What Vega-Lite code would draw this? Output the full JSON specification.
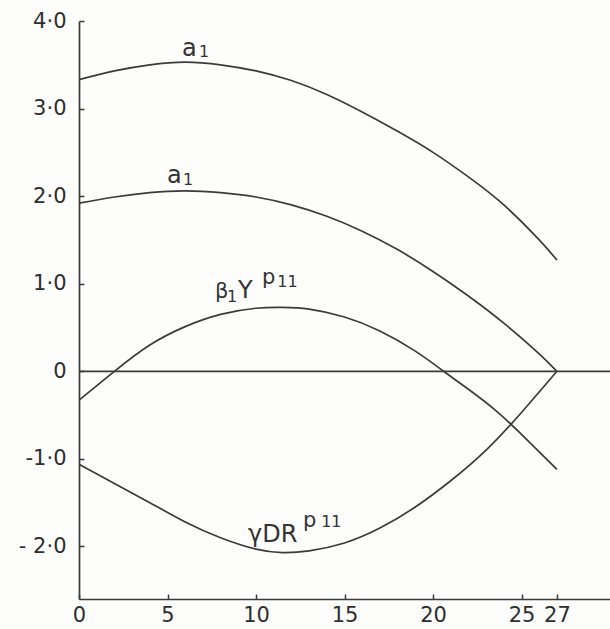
{
  "$schema": "https://vega.github.io/schema/vega-lite/v6.json",
  "width": 531,
  "height": 578,
  "autosize": {"type": "none"},
  "padding": {"left": 79, "top": 21, "right": 0, "bottom": 30},
  "background": "#fdfdfb",
  "config": {"view": {"stroke": null}, "font": "DejaVu Sans"},
  "datasets": {
    "curves": [
      {"series": "a1_upper", "x": 0, "y": 3.33},
      {"series": "a1_upper", "x": 2, "y": 3.43},
      {"series": "a1_upper", "x": 4, "y": 3.5},
      {"series": "a1_upper", "x": 6, "y": 3.53},
      {"series": "a1_upper", "x": 8, "y": 3.5},
      {"series": "a1_upper", "x": 10, "y": 3.43},
      {"series": "a1_upper", "x": 12, "y": 3.32},
      {"series": "a1_upper", "x": 14, "y": 3.16},
      {"series": "a1_upper", "x": 16, "y": 2.96},
      {"series": "a1_upper", "x": 18, "y": 2.74},
      {"series": "a1_upper", "x": 20, "y": 2.5},
      {"series": "a1_upper", "x": 22, "y": 2.22},
      {"series": "a1_upper", "x": 24, "y": 1.9},
      {"series": "a1_upper", "x": 26, "y": 1.5},
      {"series": "a1_upper", "x": 27, "y": 1.27},
      {"series": "a1_lower", "x": 0, "y": 1.92},
      {"series": "a1_lower", "x": 2, "y": 1.99},
      {"series": "a1_lower", "x": 4, "y": 2.04},
      {"series": "a1_lower", "x": 6, "y": 2.06},
      {"series": "a1_lower", "x": 8, "y": 2.04},
      {"series": "a1_lower", "x": 10, "y": 1.99},
      {"series": "a1_lower", "x": 12, "y": 1.9},
      {"series": "a1_lower", "x": 14, "y": 1.77},
      {"series": "a1_lower", "x": 16, "y": 1.6},
      {"series": "a1_lower", "x": 18, "y": 1.39},
      {"series": "a1_lower", "x": 20, "y": 1.14},
      {"series": "a1_lower", "x": 22, "y": 0.86},
      {"series": "a1_lower", "x": 24, "y": 0.55},
      {"series": "a1_lower", "x": 26, "y": 0.2},
      {"series": "a1_lower", "x": 27, "y": 0},
      {"series": "beta", "x": 0, "y": -0.33},
      {"series": "beta", "x": 2, "y": 0},
      {"series": "beta", "x": 4, "y": 0.3},
      {"series": "beta", "x": 6, "y": 0.51},
      {"series": "beta", "x": 8, "y": 0.65},
      {"series": "beta", "x": 10, "y": 0.72},
      {"series": "beta", "x": 11.5, "y": 0.73},
      {"series": "beta", "x": 13, "y": 0.71},
      {"series": "beta", "x": 15, "y": 0.62},
      {"series": "beta", "x": 17, "y": 0.46},
      {"series": "beta", "x": 19, "y": 0.23},
      {"series": "beta", "x": 20.6, "y": 0},
      {"series": "beta", "x": 22, "y": -0.205},
      {"series": "beta", "x": 23.5, "y": -0.44},
      {"series": "beta", "x": 25, "y": -0.72},
      {"series": "beta", "x": 27, "y": -1.12},
      {"series": "gamma", "x": 0, "y": -1.06},
      {"series": "gamma", "x": 2, "y": -1.28},
      {"series": "gamma", "x": 4, "y": -1.5},
      {"series": "gamma", "x": 6, "y": -1.72},
      {"series": "gamma", "x": 8, "y": -1.9},
      {"series": "gamma", "x": 10, "y": -2.03},
      {"series": "gamma", "x": 11.5, "y": -2.07},
      {"series": "gamma", "x": 13, "y": -2.05},
      {"series": "gamma", "x": 15, "y": -1.96},
      {"series": "gamma", "x": 17, "y": -1.79},
      {"series": "gamma", "x": 19, "y": -1.55},
      {"series": "gamma", "x": 21, "y": -1.25},
      {"series": "gamma", "x": 23, "y": -0.9},
      {"series": "gamma", "x": 25, "y": -0.47},
      {"series": "gamma", "x": 27, "y": 0},
      {"series": "zero", "x": 0, "y": 0},
      {"series": "zero", "x": 30, "y": 0}
    ],
    "labels_main": [
      {"t": "a", "x": 5.82, "y": 3.6},
      {"t": "a", "x": 4.97, "y": 2.15},
      {"t": "Y", "x": 8.98, "y": 0.837},
      {"t": "γDR", "x": 9.55, "y": -1.949}
    ],
    "labels_beta": [
      {"t": "β", "x": 7.68, "y": 0.837}
    ],
    "labels_sup": [
      {"t": "p", "x": 10.34, "y": 1.0},
      {"t": "p", "x": 12.66, "y": -1.778}
    ],
    "labels_small": [
      {"t": "1", "x": 6.78, "y": 3.59},
      {"t": "1", "x": 5.88, "y": 2.13},
      {"t": "1", "x": 8.36, "y": 0.79},
      {"t": "11", "x": 11.2, "y": 0.963},
      {"t": "11", "x": 13.68, "y": -1.778}
    ]
  },
  "layer": [
    {
      "data": {"name": "curves"},
      "mark": {"type": "line", "interpolate": "natural", "color": "#3b3b3b", "strokeWidth": 1.7},
      "encoding": {
        "x": {
          "field": "x", "type": "quantitative",
          "scale": {"domain": [0, 30], "nice": false, "zero": false},
          "axis": {
            "title": null, "grid": false, "values": [0, 5, 10, 15, 20, 25, 27],
            "domainColor": "#3b3b3b", "domainWidth": 1.7,
            "tickColor": "#3b3b3b", "tickWidth": 1.5, "tickSize": -5,
            "labelFontSize": 21, "labelColor": "#2e2e2e", "labelPadding": 10,
            "labelFlush": false, "labelOverlap": false, "labelFont": "DejaVu Sans"
          }
        },
        "y": {
          "field": "y", "type": "quantitative",
          "scale": {"domain": [-2.6, 4.0], "nice": false, "zero": false},
          "axis": {
            "title": null, "grid": false, "values": [-2, -1, 0, 1, 2, 3, 4],
            "labelExpr": "datum.value == 0 ? '0' : datum.value == -2 ? '- 2·0' : datum.value == -1 ? '-1·0' : replace(format(datum.value, '.1f'), '.', '·')",
            "domainColor": "#3b3b3b", "domainWidth": 1.7,
            "tickColor": "#3b3b3b", "tickWidth": 1.5, "tickSize": -5,
            "labelFontSize": 21, "labelColor": "#2e2e2e", "labelPadding": 18,
            "labelFlush": false, "labelOverlap": false, "labelFont": "DejaVu Sans"
          }
        },
        "detail": {"field": "series"}
      }
    },
    {
      "data": {"name": "labels_main"},
      "mark": {"type": "text", "align": "left", "baseline": "alphabetic", "fontSize": 24, "color": "#333333"},
      "encoding": {
        "x": {"field": "x", "type": "quantitative"},
        "y": {"field": "y", "type": "quantitative"},
        "text": {"field": "t"}
      }
    },
    {
      "data": {"name": "labels_beta"},
      "mark": {"type": "text", "align": "left", "baseline": "alphabetic", "fontSize": 21, "color": "#333333"},
      "encoding": {
        "x": {"field": "x", "type": "quantitative"},
        "y": {"field": "y", "type": "quantitative"},
        "text": {"field": "t"}
      }
    },
    {
      "data": {"name": "labels_sup"},
      "mark": {"type": "text", "align": "left", "baseline": "alphabetic", "fontSize": 21, "color": "#333333"},
      "encoding": {
        "x": {"field": "x", "type": "quantitative"},
        "y": {"field": "y", "type": "quantitative"},
        "text": {"field": "t"}
      }
    },
    {
      "data": {"name": "labels_small"},
      "mark": {"type": "text", "align": "left", "baseline": "alphabetic", "fontSize": 16, "color": "#333333"},
      "encoding": {
        "x": {"field": "x", "type": "quantitative"},
        "y": {"field": "y", "type": "quantitative"},
        "text": {"field": "t"}
      }
    }
  ]
}
